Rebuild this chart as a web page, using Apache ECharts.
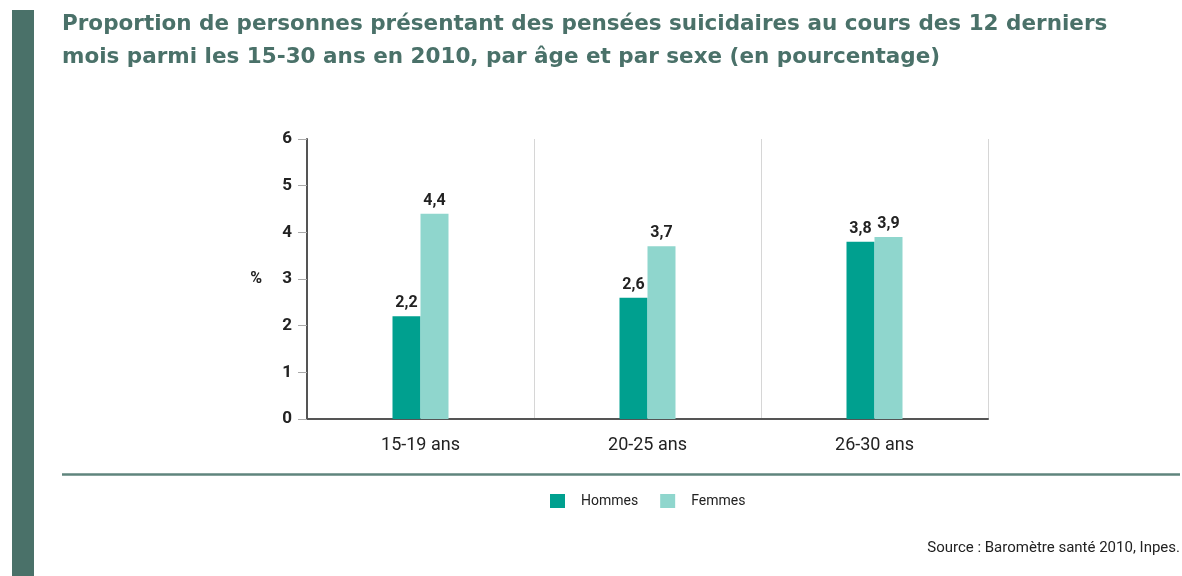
<!DOCTYPE html>
<html>
<head>
<meta charset="UTF-8">
<script src="https://cdn.jsdelivr.net/npm/echarts@6/dist/echarts.min.js"></script>
<title>Pensées suicidaires 15-30 ans</title>
<style>
	html, body { margin: 0; padding: 0; background: #fff; }
	#chart { width: 1182px; height: 576px; }
</style>
</head>
<body>
	<div id="chart"></div>

	<script>
		// donnees
		var categories = ['15-19 ans', '20-25 ans', '26-30 ans'];
		var hommes = [2.2, 2.6, 3.8];
		var femmes = [4.4, 3.7, 3.9];
		var yTicks = [0, 1, 2, 3, 4, 5, 6];

		var narrow = "'Liberation Sans Narrow', Roboto, sans-serif";
		var dark = '#4a7169';

		function virgule(p) {
			return String(p.value).replace('.', ',');
		}

		var chart = echarts.init(document.getElementById('chart'));

		var option = {
			animation: false,
			title: {
				text: 'Proportion de personnes présentant des pensées suicidaires au cours des 12 derniers\nmois parmi les 15-30 ans en 2010, par âge et par sexe (en pourcentage)',
				left: 57,
				top: 3,
				textStyle: {
					fontFamily: "'DejaVu Sans', sans-serif",
					fontWeight: 'bold',
					fontSize: 21.5,
					lineHeight: 33,
					color: dark
				}
			},
			legend: {
				left: 545,
				top: 489,
				itemWidth: 15,
				itemHeight: 14,
				itemGap: 22,
				icon: 'rect',
				data: ['Hommes', 'Femmes'],
				textStyle: {
					fontFamily: narrow,
					fontSize: 14,
					color: '#222',
					padding: [0, 0, 0, 11]
				}
			},
			grid: {
				left: 307,
				right: 194,
				top: 139,
				bottom: 157
			},
			xAxis: {
				type: 'category',
				data: categories,
				axisLine: { lineStyle: { color: '#555', width: 2 } },
				axisTick: { show: false },
				axisLabel: {
					fontFamily: narrow,
					fontSize: 18,
					color: '#222',
					margin: 17
				},
				splitLine: {
					show: true,
					lineStyle: { color: '#d6d6d6', width: 1 }
				}
			},
			yAxis: {
				type: 'value',
				min: yTicks[0],
				max: yTicks[yTicks.length - 1],
				interval: 1,
				name: '%',
				nameLocation: 'middle',
				nameRotate: 0,
				nameGap: 45,
				nameTextStyle: {
					fontFamily: narrow,
					fontWeight: 'bold',
					fontSize: 16,
					color: '#222'
				},
				axisLine: { show: true, lineStyle: { color: '#555', width: 2 } },
				axisTick: { show: true, length: 9, lineStyle: { color: '#aaa' } },
				axisLabel: {
					fontFamily: narrow,
					fontWeight: 'bold',
					fontSize: 17,
					color: '#222',
					margin: 15
				},
				splitLine: { show: false }
			},
			series: [{
				name: 'Hommes',
				type: 'bar',
				data: hommes,
				barWidth: 28,
				barGap: '0%',
				itemStyle: { color: '#00a08f' },
				label: {
					show: true,
					position: 'top',
					distance: 5,
					formatter: virgule,
					fontFamily: narrow,
					fontWeight: 'bold',
					fontSize: 16,
					color: '#222'
				}
			}, {
				name: 'Femmes',
				type: 'bar',
				data: femmes,
				barWidth: 28,
				barGap: '0%',
				itemStyle: { color: '#8fd6cd' },
				label: {
					show: true,
					position: 'top',
					distance: 5,
					formatter: virgule,
					fontFamily: narrow,
					fontWeight: 'bold',
					fontSize: 16,
					color: '#222'
				}
			}],
			graphic: [{
				type: 'rect',
				shape: { x: 12, y: 10, width: 22, height: 566 },
				style: { fill: dark }
			}, {
				type: 'line',
				shape: { x1: 62, y1: 474.5, x2: 1180, y2: 474.5 },
				style: { stroke: '#5f857d', lineWidth: 2.5 }
			}, {
				type: 'text',
				right: 2,
				top: 541,
				style: {
					text: 'Source : Baromètre santé 2010, Inpes.',
					font: '15px ' + narrow,
					fill: '#222'
				}
			}]
		};

		chart.setOption(option);
	</script>
</body>
</html>
